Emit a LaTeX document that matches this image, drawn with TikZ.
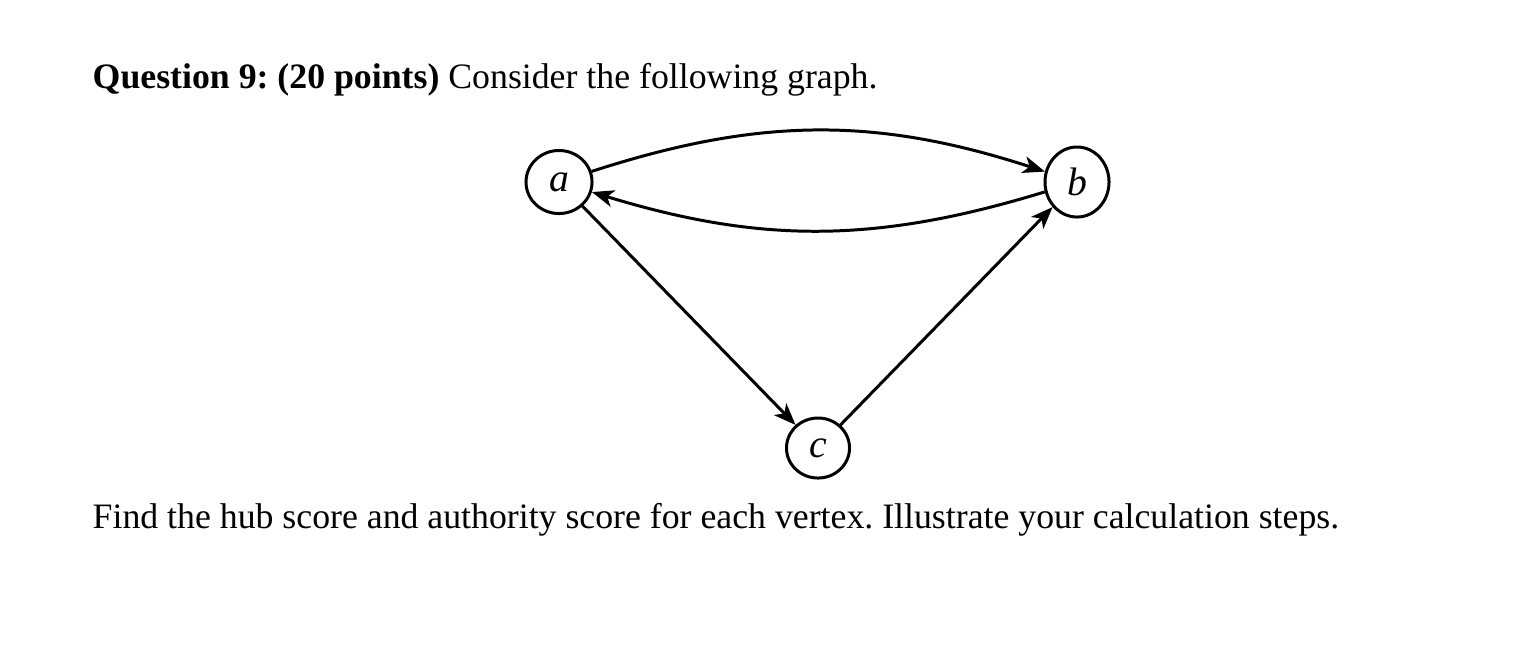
\documentclass[tikz,border=0pt]{standalone}
\usepackage{fontspec}
\setmainfont{Liberation Serif}
\usetikzlibrary{arrows.meta,shapes.geometric}
\begin{document}
\frenchspacing
\begin{tikzpicture}[x=0.01cm,y=-0.01cm,
  vertex/.style={draw,ellipse,line width=0.85pt,inner sep=0pt,font=\fontsize{11.3}{13}\selectfont\itshape},
  edge/.style={line width=0.85pt,-{Stealth[length=0.22cm,width=0.17cm,inset=0.06cm]}},
  txt/.style={anchor=base west,inner sep=0pt,font=\fontsize{10.17}{12}\selectfont}]
\useasboundingbox (0,0) rectangle (1537,656);
\node[txt] (q) at (92,88) {\textbf{Question 9: (20 points)} Consider the following graph.};
\node[vertex,minimum width=0.66cm,minimum height=0.63cm] (a) at (559,182) {a};
\node[vertex,minimum width=0.64cm,minimum height=0.70cm] (b) at (1077,182) {b};
\node[vertex,minimum width=0.63cm,minimum height=0.60cm] (c) at (818,448) {c};
\draw[edge] (a) to[bend left=18] (b);
\draw[edge] (b) to[bend left=17] (a);
\draw[edge] (a) -- (c);
\draw[edge] (c) -- (b);
\node[txt] (f) at (92,528) {Find the hub score and authority score for each vertex. Illustrate your calculation steps.};
\end{tikzpicture}
\end{document}
